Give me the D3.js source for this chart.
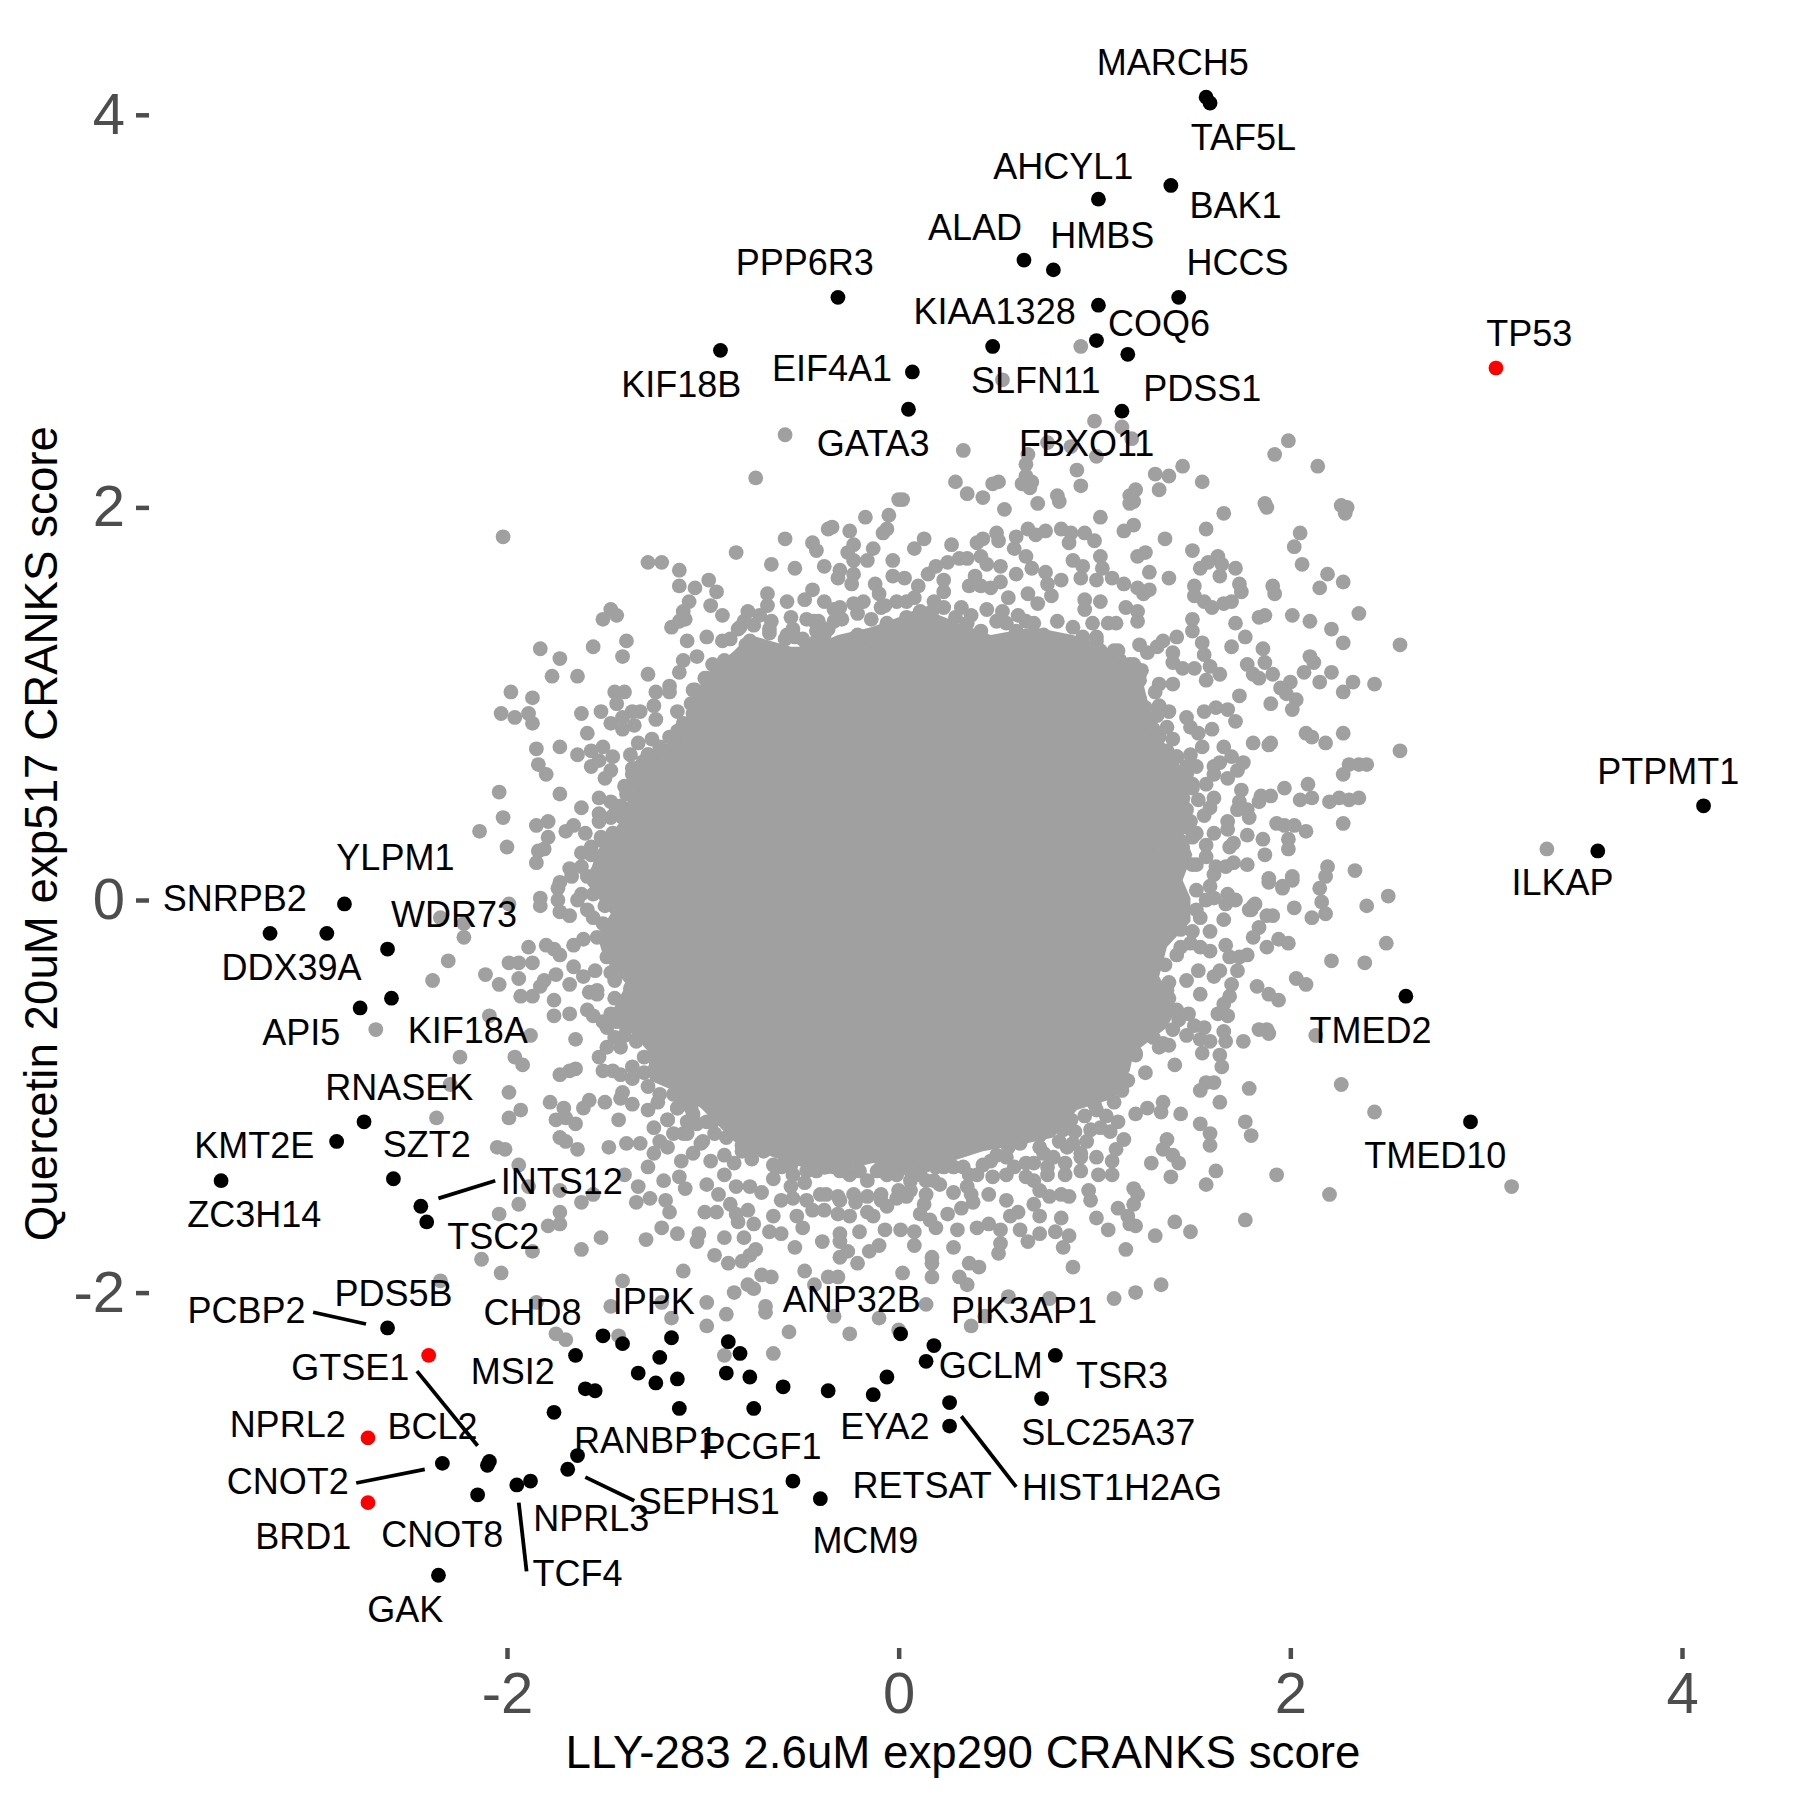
<!DOCTYPE html>
<html>
<head>
<meta charset="utf-8">
<script src="https://cdn.jsdelivr.net/npm/d3@7"></script>
<style>
  html, body { margin: 0; padding: 0; background: #fff; }
  text { font-family: "Liberation Sans", Arial, sans-serif; }
</style>
</head>
<body>
<div class="viz"></div>
<script>
const xTicks = [-2, 0, 2, 4];
const yTicks = [-2, 0, 2, 4];
const xTitle = "LLY-283 2.6uM exp290 CRANKS score";
const yTitle = "Quercetin 20uM exp517 CRANKS score";

// red hits
const redX = [3.05, -2.40, -2.71, -2.71];
const redY = [2.71, -2.32, -2.74, -3.07];

// black hits, [x, y]
const hits = [[1.57,4.09],[1.59,4.06],[1.39,3.64],[1.02,3.57],[.64,3.26],[.79,3.21],[1.43,3.07],[1.02,3.03],[1.01,2.85],[1.17,2.78],[.48,2.82],[.07,2.69],[.05,2.50],[1.14,2.49],[-.31,3.07],[-.91,2.80],[4.11,.48],[3.57,.25],[2.59,-.49],[2.92,-1.13],[-2.83,-.02],[-3.21,-.17],[-2.92,-.17],[-2.61,-.25],[-2.59,-.50],[-2.75,-.55],[-2.73,-1.13],[-2.87,-1.23],[-3.46,-1.43],[-2.58,-1.42],[-2.44,-1.56],[-2.41,-1.64],[-2.61,-2.18],[-2.33,-2.87],[-2.09,-2.86],[-2.10,-2.88],[-2.15,-3.03],[-1.95,-2.98],[-1.88,-2.96],[-2.35,-3.44],[-1.69,-2.90],[-1.64,-2.83],[-1.76,-2.61],[-1.60,-2.49],[-1.55,-2.50],[-1.65,-2.32],[-1.51,-2.22],[-1.41,-2.26],[-1.16,-2.23],[-1.22,-2.33],[-1.33,-2.41],[-1.24,-2.46],[-1.13,-2.44],[-1.12,-2.59],[-.87,-2.25],[-.81,-2.31],[-.88,-2.41],[-.76,-2.43],[-.59,-2.48],[-.74,-2.59],[-.36,-2.50],[-.13,-2.52],[-.06,-2.43],[-.54,-2.96],[-.40,-3.05],[.01,-2.21],[.18,-2.27],[.14,-2.35],[.80,-2.32],[.73,-2.54],[.26,-2.56],[.26,-2.68]];

// the middle of the cloud is fully overplotted, single genes can't be read there,
// so it is one filled outline and only the readable points around it are listed
const coreOutline = [[-1.59,.10],[-1.54,.25],[-1.42,.40],[-1.34,.59],[-1.34,.73],[-1.15,.81],[-1.05,1.00],[-1.00,1.13],[-.84,1.27],[-.76,1.35],[-.55,1.29],[-.45,1.29],[-.31,1.35],[-.14,1.39],[0,1.44],[.11,1.49],[.31,1.41],[.47,1.35],[.69,1.39],[.89,1.35],[1.05,1.29],[1.16,1.22],[1.25,1.10],[1.28,.98],[1.35,.81],[1.44,.68],[1.49,.52],[1.45,.35],[1.50,.23],[1.45,.10],[1.49,.01],[1.49,-.11],[1.37,-.24],[1.33,-.39],[1.42,-.55],[1.37,-.65],[1.20,-.78],[1.18,-.87],[1.10,-1.01],[.91,-1.07],[.79,-1.21],[.65,-1.24],[.43,-1.28],[.18,-1.36],[.01,-1.40],[-.13,-1.34],[-.38,-1.40],[-.64,-1.31],[-.84,-1.23],[-1.01,-1.06],[-1.15,-.97],[-1.27,-.92],[-1.28,-.77],[-1.39,-.65],[-1.47,-.58],[-1.39,-.43],[-1.51,-.28],[-1.54,-.18],[-1.47,-.07],[-1.59,.08]];

const greyPoints = [
[-.58,2.37],[-.73,2.15],[-2.02,1.85],[0,2.04],[-.17,1.95],[-.05,1.96],[-.34,1.90],[-.36,1.89],[-.25,1.88],[-.06,1.89],[-.08,1.87],[-.58,1.84],[-.44,1.82],[-.42,1.78],[-.83,1.77],[-.23,1.81],[-.26,1.77],[-.23,1.73],[-.13,1.79],[-.16,1.73],[-.03,1.73],[-1.28,1.72],[-1.21,1.72],[-.65,1.71],[-.53,1.69],[-.38,1.70],[-1.12,1.68],[-.30,1.68],[-.31,1.64],[-.23,1.66],[-.24,1.61],[-.03,1.65],[-.97,1.63],[-1.12,1.60],[-1.04,1.59],[-.93,1.57],[-.12,1.61],[-.44,1.58],[-.67,1.56],[-.67,1.50],[-.48,1.53],[-.38,1.52],[-.57,1.52],[-1.07,1.52],[-1.10,1.47],[-1.09,1.43],[-1.12,1.42],[-1.16,1.39],[-.96,1.50],[-.90,1.45],[-1.47,1.48],[-1.44,1.45],[-1.51,1.43],[-.77,1.47],[-.79,1.42],[-.55,1.44],[-.65,1.42],[-.41,1.42],[-.42,1.37],[-.98,1.34],[-1.08,1.32],[-1.39,1.32],[-.86,1.33],[-1.56,1.29],[-1.83,1.28],[-1.41,1.24],[-1.73,1.23],[-1.03,1.24],[-1.10,1.22],[-1.12,1.16],[-1.77,1.14],[-1.64,1.14],[-1.28,1.15],[-.99,1.13],[-1.04,1.07],[-1.17,1.09],[-1.17,1.06],[-1.45,1.06],[-1.40,1.06],[-1.44,1.00],[-1.24,1.06],[-1.25,.99],[-1.98,1.06],[-1.87,1.03],[-2.03,.95],[-1.96,.93],[-1.89,.95],[-1.87,.90],[-1.62,.95],[-1.52,.96],[-1.32,.96],[-1.36,.96],[-1.41,.93],[-1.13,.96],[-1.24,.92],[-1.47,.90],[-1.35,.89],[-1.41,.87],[-1.05,.95],[-.99,.92],[-1.59,.85],[-1.17,.83],[-1.26,.82],[-1.33,.80],[-1.85,.77],[-1.73,.78],[-1.51,.78],[-1.57,.76],[-1.64,.74],[-1.37,.74],[-1.28,.74],[-1.20,.74],[-1.46,.73],[-1.84,.69],[-1.80,.64],[-1.57,.68],[-1.53,.71],[-1.47,.66],[-1.50,.62],[-1.36,.67],[-1.32,.64],[-1.38,.58],[-2.04,.55],[-1.73,.54],[-1.53,.52],[-1.47,.50],[-1.62,.47],[-1.42,.48],[-1.39,.46],[-2.02,.42],[-1.53,.44],[-1.53,.40],[-1.79,.40],[-1.85,.38],[-1.66,.38],[-1.70,.35],[-1.41,.42],[-1.30,.44],[-2.14,.35],[-1.79,.32],[-1.60,.34],[-2.00,.27],[-1.81,.26],[-1.84,.25],[-1.51,.30],[-1.57,.27],[-1.62,.24],[-1.85,.19],[-1.62,.17],[-1.68,.16],[-1.67,.12],[-1.54,.14],[-1.73,.09],[-1.42,.25],[-1.32,.25],[-1.39,.17],
[-.90,1.32],[-.82,1.38],[-.74,1.40],[-.66,1.36],[-.58,1.33],[-.49,1.33],[-.36,1.38],[-.29,1.43],[-.21,1.46],[-.14,1.43],[-.07,1.50],[.04,1.52],[.17,1.47],[-.47,1.43],[-.33,1.48],[-.18,1.52],[-.10,1.56],[-.54,1.38],[-.71,1.45],[-.84,1.22],[-.95,1.20],[-1.06,.88],[-1.10,.90],[-1.22,.78],[-1.40,.58],[-1.45,.44],[-1.46,.34],
[-.43,1.42],[-.38,1.35],[-.30,1.49],[-.23,1.51],[-.33,1.42],[-.21,1.35],[-.14,1.32],[-.09,1.49],[-.06,1.41],[-.01,1.52],[-.08,1.34],[-.47,1.30],[-.57,1.35],[-.53,1.34],[-.66,1.38],[-.70,1.27],[-.76,1.32],[-.81,1.39],[-.42,1.32],[-.89,1.22],[-.98,1.13],[-1.05,1.07],[-1.01,1.02],[-1.06,1.00],[-.93,1.07],[-.99,.91],[-1.08,.86],[-1.13,.86],[-1.22,.76],[-1.28,.74],[-1.32,.68],[-1.36,.64],[-1.25,.64],[-1.32,.59],[-1.39,.54],[-1.35,.49],[-1.44,.47],[-1.47,.42],[-1.39,.40],[-1.30,.39],[-1.52,.32],[-1.44,.32],[-1.39,.30],[-1.57,.23],[-1.47,.22],[-1.52,.17],[-1.59,.12],[-1.47,.12],
[.18,1.52],[.11,1.47],[.04,1.44],[.08,1.54],[.23,1.49],[.29,1.44],[.35,1.41],[.42,1.37],[.50,1.42],[.55,1.41],[.60,1.37],[.69,1.41],[.74,1.35],[.81,1.42],[.89,1.39],[.94,1.34],[1.01,1.34],[1.03,1.27],[1.10,1.27],[1.13,1.22],[1.20,1.20],[1.23,1.15],[1.20,1.10],[1.23,1.02],[1.28,.95],[1.27,.88],[1.33,.83],[1.37,.76],[1.42,.73],[1.47,.64],[1.50,.59],[1.44,.51],[1.42,.44],[1.49,.40],[1.52,.34],[1.45,.27],[1.50,.18],[1.57,.22],
[.93,2.82],[.53,2.65],[1.00,2.44],[1.14,2.41],[.33,2.29],[1.19,2.35],[.76,2.33],[.88,2.31],[1.01,2.26],[1.99,2.34],[1.92,2.27],[2.14,2.21],[1.45,2.21],[1.31,2.17],[1.38,2.16],[.66,2.27],[.65,2.22],[.91,2.19],[.65,2.16],[.68,2.13],[.63,2.12],[.67,2.10],[.51,2.13],[.48,2.12],[.29,2.13],[.93,2.11],[1.55,2.13],[.35,2.07],[.43,2.05],[1.33,2.09],[.81,2.06],[.82,2.03],[1.21,2.09],[1.18,2.06],[1.20,2.03],[1.18,2.02],[.02,2.04],[.71,2.02],[.54,1.99],[1.87,2.02],[1.88,2.00],[1.66,1.97],[2.26,2.01],[2.29,2.00],[2.28,1.97],[1.03,1.95],[1.20,1.91],[1.15,1.88],[1.57,1.89],[.50,1.87],[.51,1.83],[.66,1.89],[.70,1.86],[.75,1.88],[.83,1.89],[.88,1.87],[.87,1.82],[.95,1.87],[1.00,1.83],[1.03,1.75],[.60,1.85],[.59,1.79],[.43,1.84],[.40,1.82],[.13,1.84],[.08,1.79],[.27,1.81],[1.36,1.84],[2.05,1.87],[2.02,1.80],[1.50,1.78],[1.26,1.77],[1.22,1.75],[.42,1.75],[.45,1.71],[.65,1.75],[.68,1.69],[.89,1.73],[.94,1.70],[2.06,1.71],[1.63,1.75],[1.58,1.72],[1.54,1.69],[1.65,1.71],[1.72,1.69],[1.64,1.65],[.52,1.70],[.31,1.74],[.25,1.72],[.19,1.70],[.15,1.66],[.35,1.74],[1.28,1.67],[.75,1.67],[.60,1.66],[1.04,1.69],[1.38,1.64],[2.19,1.66],[2.27,1.62],[2.15,1.59],[.83,1.63],[.76,1.61],[.93,1.64],[1.01,1.63],[1.09,1.64],[1.15,1.61],[1.22,1.59],[1.28,1.58],[.52,1.62],[.47,1.59],[.39,1.65],[.36,1.60],[.42,1.60],[.23,1.63],[.23,1.57],[.10,1.60],[.03,1.64],[1.91,1.60],[1.92,1.56],[1.51,1.60],[1.51,1.55],[1.56,1.52],[1.60,1.49],[1.66,1.51],[1.70,1.52],[1.74,1.61],[1.75,1.57],[.66,1.56],[.56,1.54],[.71,1.51],[.78,1.55],[1.25,1.56],[.95,1.53],[1.03,1.52],[.95,1.48],[1.16,1.49],[1.22,1.47],[1.22,1.42],[.32,1.49],[.37,1.45],[.45,1.48],[.53,1.47],[.61,1.45],[.65,1.42],[1.87,1.45],[1.84,1.44],[2.01,1.45],[2.35,1.46],[2.10,1.42],[1.50,1.43],[1.50,1.37],[1.72,1.41],[1.07,1.41],[1.11,1.41],[.99,1.41],[1.77,1.34],[2.21,1.38],[2.27,1.31],[1.42,1.34],[1.35,1.32],[1.32,1.29],[1.27,1.26],[1.23,1.30],[1.55,1.31],[1.56,1.25],[1.59,1.19],[1.64,1.15],[1.70,1.29],[1.86,1.28],[1.01,1.32],[.99,1.27],[1.12,1.27],[1.18,1.20],[1.40,1.26],[1.40,1.21],[1.45,1.18],[1.51,1.18],[2.10,1.24],[2.12,1.21],[1.78,1.20],[1.81,1.15],[1.84,1.13],[1.87,1.21],[1.91,1.15],[2.21,1.16],[2.07,1.16],[2.15,1.11],[2.32,1.11],[2.27,1.06],[1.57,1.12],[1.40,1.10],[1.33,1.10],[1.31,1.06],[1.24,1.17],[1.23,1.12],[2.00,1.11],[1.95,1.08],[1.98,1.05],[2.03,1.02],[2.01,.97],[1.90,1.00],[1.74,1.04],[1.23,1.02],[1.26,.98],[1.33,.99],[1.38,.96],[1.32,.94],[1.62,.98],[1.56,.96],[1.68,.97],[1.47,.93],[1.72,.91],[1.28,.90],[1.37,.88],[1.40,.82],[1.49,.88],[1.53,.85],[1.60,.87],[2.08,.85],[2.11,.83],[2.27,.85],[2.18,.80],[1.81,.80],[1.90,.80],[1.89,.79],[1.55,.78],[1.66,.78],[1.76,.70],[1.70,.73],[1.64,.70],[1.61,.68],[1.73,.66],[1.68,.62],[1.61,.64],[1.49,.74],[1.47,.68],[1.52,.68],[2.30,.69],[2.27,.64],[2.35,.69],[1.37,.73],[1.42,.73],[1.45,.59],[1.50,.57],[1.57,.59],[1.61,.52],[1.53,.51],[1.59,.47],[1.56,.43],[1.75,.56],[1.97,.57],[2.09,.59],[1.90,.53],[1.85,.53],[1.84,.50],[2.05,.51],[2.11,.52],[2.20,.50],[2.25,.52],[2.30,.51],[2.35,.52],[1.74,.50],[1.78,.46],[1.73,.46],[1.79,.42],[1.93,.39],[1.97,.38],[2.02,.38],[2.08,.35],[2.27,.39],[1.68,.40],[1.68,.36],[1.78,.33],[1.99,.31],[1.99,.26],[1.86,.31],[1.71,.29],[1.69,.27],[1.61,.34],[1.57,.28],[1.87,.23],[1.52,.18],[1.62,.17],[1.71,.19],[1.78,.18],[1.67,.17],[2.19,.17],[2.18,.12],[2.33,.15],[1.89,.11],[2.01,.12],[1.61,.13],[1.37,.57],[1.33,.51],[1.47,.37],[1.50,.32],[1.30,.42],[1.37,.36],[1.33,.23],[1.44,.30],[2.56,1.30],[2.56,.76],[2.43,1.10],[2.39,.69],[3.31,.26],
[1.96,.07],[2.15,.06],[2.16,-.01],[2.18,-.07],[2.11,-.09],[2.50,.02],[2.39,-.03],[2.02,-.04],[1.81,-.03],[1.80,-.05],[1.88,-.08],[1.84,-.14],[1.81,-.19],[1.94,-.20],[1.99,-.22],[1.88,-.24],[2.49,-.22],[2.21,-.31],[2.38,-.32],[1.78,-.28],[1.74,-.29],[2.03,-.40],[2.08,-.43],[1.83,-.44],[1.89,-.48],[1.94,-.51],[2.26,-.94],[2.43,-1.08],[3.13,-1.46],[2.20,-1.50],[1.59,.07],[1.68,.03],[1.72,0],[1.61,.01],[1.67,-.02],[1.66,-.10],[1.82,-.02],[1.79,-.05],[1.89,.09],[1.96,.06],[2.01,.10],[1.91,-.08],[1.69,-.49],[1.66,-.53],[1.63,-.58],[1.68,-.59],[1.84,-.66],[1.88,-.66],[1.89,-.68],[1.76,-.72],[2.13,-.69],[1.51,-.64],[1.56,-.65],[1.47,-.69],[1.54,-.71],[1.59,-.72],[1.66,-.67],[1.67,-.72],[1.55,-.78],[1.64,-.79],[1.65,-.85],[1.41,-.84],[1.26,-.88],[1.33,-.75],[1.38,-.74],[1.21,-.79],[1.15,-.91],[1.79,-.96],[1.57,-.93],[1.61,-.93],[1.54,-.97],[1.64,-1.03],[1.77,-1.13],[1.80,-1.20],[1.44,-1.09],[1.27,-1.06],[1.21,-1.09],[1.35,-1.03],[1.34,-1.08],[1.54,-1.14],[1.59,-1.19],[1.59,-1.25],[1.01,-1.07],[1.06,-1.10],[1.12,-1.13],[1.08,-1.18],[1.15,-1.22],[1.11,-1.27],[1.09,-1.33],[1.09,-1.40],[1.37,-1.22],[1.35,-1.27],[1.40,-1.30],[1.43,-1.34],[1.29,-1.34],[1.39,-1.41],[1.62,-1.38],[1.57,-1.45],[1.93,-1.40],[1.77,-1.63],[1.20,-1.47],[1.22,-1.50],[1.20,-1.55],[1.12,-1.57],[1.17,-1.61],[1.18,-1.65],[1.21,-1.66],[1.01,-1.62],[1.07,-1.68],[1.41,-1.64],[1.49,-1.69],[1.31,-1.71],[1.16,-1.78],[.97,-1.48],[.98,-1.53],[.85,-1.40],[.93,-1.38],[1.02,-1.40],[.85,-1.34],[.76,-1.40],[.69,-1.43],[.72,-1.48],[.77,-1.51],[.83,-1.50],[.87,-1.51],[.65,-1.41],[.74,-1.29],[1.01,-1.31],[.93,-1.29],[.86,-1.26],[.55,-1.53],[.46,-1.50],[.69,-1.55],[.72,-1.61],[.61,-1.59],[.57,-1.61],[.83,-1.62],[.80,-1.69],[.87,-1.71],[.84,-1.77],[.72,-1.70],[.62,-1.68],[.66,-1.74],[.52,-1.68],[.46,-1.65],[.40,-1.67],[.30,-1.68],[.52,-1.75],[.51,-1.80],[.89,-1.87],[.28,-1.77],[.36,-1.85],[.41,-1.87],[.31,-1.92],[.35,-1.96],[.17,-1.82],[.17,-1.85],[.17,-1.92],[.19,-1.67],[.16,-1.63],[.25,-1.60],[.32,-1.57],[.13,-1.55],[.11,-1.60],[.28,-1.49],[.37,-1.50],[.38,-1.54],[.08,-1.69],[.08,-1.76],[.02,-1.90],[.14,-2.06],[.37,-2.17],[.44,-2.12],[.56,-2.02],[.77,-2.03],[1.10,-2.03],[1.21,-2.00],[1.34,-1.96],[.21,-1.45],[.14,-1.43],[.06,-1.48],[.40,-1.40],[.48,-1.41],[.55,-1.40],[.47,-1.33],[.59,-1.36],[.33,-1.36],[.23,-1.36],[.14,-1.35],[.06,-1.38],[.69,-1.34],
[1.54,-.09],[1.57,0],[1.50,-.16],[1.59,-.16],[1.44,-.24],[1.49,-.22],[1.54,-.24],[1.59,-.26],[1.67,-.23],[1.69,-.29],[1.73,-.36],[1.70,-.43],[1.64,-.36],[1.61,-.39],[1.53,-.36],[1.54,-.48],[1.38,-.42],[1.47,-.41],[1.37,-.46],[1.42,-.56],[1.43,-.61],[1.40,-.66],[1.35,-.73],[1.30,-.70],[1.21,-.78],[1.03,-1.16],[.96,-1.23],[.89,-1.24],[.93,-1.31],[.82,-1.23],[.72,-1.26],[.79,-1.31],[.65,-1.34],[.76,-1.36],[.55,-1.31],[.50,-1.30],[.43,-1.35],[.36,-1.40],[.28,-1.36],[.18,-1.43],[.19,-1.36],[.11,-1.40],[.06,-1.43],[.04,-1.51],[.14,-1.50],[.35,-1.46],
[1.00,-1.04],[.95,-1.10],[.88,-1.12],[.84,-1.17],[.72,-1.20],[.62,-1.24],[.56,-1.26],[.98,-1.17],[.90,-1.18],[1.14,-.97],[1.10,-1.03],[1.17,-.92],[1.48,-.58],[1.38,-.50],[1.42,-.28],[1.36,-.33],[1.44,-.15],[1.52,-.05],[1.52,.05],[1.47,.46],[1.40,.60],[1.35,.68],[1.30,.87],[1.22,.97],[1.15,1.12],[1.08,1.18],[1.00,1.25],[-1.20,.70],[-1.08,.82],[-1.00,.98],[-.93,1.18],[-.78,1.30],[-1.37,-.45],[-1.44,-.33],[-1.44,-.12],[-1.50,-.03],[-1.50,.05],[-1.41,-.60],[-1.33,-.70],[-1.30,-.88],[-1.10,-1.02],[-.95,-1.13],[-.80,-1.25],[-.58,-1.33],[-.30,-1.38],[-.05,-1.36],
[-1.74,.06],[-1.83,.01],[-1.83,-.03],[-1.74,0],[-1.73,-.06],[-1.68,-.08],[-1.64,0],[-1.59,-.05],[-1.56,-.09],[-1.99,-.02],[-2.22,-.12],[-2.22,-.19],[-2.30,-.31],[-2.11,-.38],[-2.04,-.43],[-1.89,-.24],[-1.80,-.23],[-1.76,-.25],[-1.99,-.32],[-1.94,-.32],[-1.87,-.32],[-1.66,-.23],[-1.61,-.20],[-1.73,-.28],[-1.66,-.34],[-1.61,-.39],[-1.55,-.36],[-1.47,-.37],[-1.94,-.40],[-1.93,-.49],[-1.87,-.49],[-1.75,-.38],[-1.81,-.41],[-1.83,-.44],[-1.68,-.43],[-1.76,-.51],[-1.58,-.47],[-1.54,-.48],[-1.76,-.59],[-1.68,-.58],[-1.59,-.56],[-1.56,-.59],[-1.51,-.62],[-2.09,-.59],[-1.88,-.69],[-1.65,-.71],[-1.47,-.58],[-1.45,-.70],[-1.40,-.69],[-2.24,-.80],[-1.96,-.80],[-1.92,-.84],[-1.53,-.80],[-1.51,-.87],[-1.46,-.87],[-1.42,-.89],[-1.36,-.91],[-1.73,-.89],[-1.68,-.87],[-1.65,-.86],[-2.29,-.94],[-1.99,-.98],[-1.78,-1.03],[-1.71,-1.06],[-1.75,-1.12],[-1.70,-1.11],[-1.65,-1.14],[-1.61,-1.06],[-1.58,-1.02],[-1.50,-1.03],[-1.41,-.98],[-1.42,-1.01],[-1.36,-1.04],[-1.28,-1.07],[-1.23,-1.03],[-1.93,-1.07],[-1.99,-1.11],[-1.43,-1.12],[-1.73,-1.21],[-1.70,-1.23],[-1.64,-1.27],[-2.05,-1.26],[-2.01,-1.27],[-1.48,-1.26],[-1.39,-1.24],[-1.32,-1.24],[-1.25,-1.16],[-1.18,-1.12],[-1.13,-1.06],[-1.22,-1.23],[-1.25,-1.29],[-1.18,-1.26],[-1.08,-1.13],[-1.05,-1.09],[-1.10,-1.19],[-1.01,-1.24],[-1.11,-1.33],[-1.05,-1.29],[-.96,-1.33],[-1.28,-1.36],[-1.20,-1.43],[-1.12,-1.41],[-1.09,-1.47],[-.98,-1.45],[-.92,-1.50],[-.89,-1.40],[-.84,-1.34],[-.80,-1.28],[-.75,-1.32],[-.69,-1.28],[-.83,-1.46],[-.76,-1.46],[-.70,-1.49],[-.64,-1.26],[-.60,-1.36],[-.54,-1.29],[-.64,-1.42],[-.55,-1.46],[-.48,-1.44],[-.42,-1.38],[-.33,-1.36],[-.25,-1.40],[-.40,-1.50],[-.31,-1.51],[-.22,-1.54],[-.16,-1.59],[-.16,-1.43],[-.09,-1.50],[-.06,-1.56],[0,-1.48],[-1.33,-1.46],[-1.34,-1.54],[-1.27,-1.52],[-1.19,-1.53],[-1.17,-1.59],[-.99,-1.59],[-.93,-1.59],[-.86,-1.55],[-.83,-1.60],[-.82,-1.64],[-.77,-1.58],[-.74,-1.65],[-.64,-1.61],[-.52,-1.61],[-.44,-1.58],[-.38,-1.58],[-.31,-1.60],[-.25,-1.61],[-.13,-1.61],[-.66,-1.69],[-.60,-1.70],[-.49,-1.67],[-.30,-1.70],[-.20,-1.69],[-.07,-1.68],[.01,-1.68],[-.39,-1.74],[-.30,-1.74],[-.53,-1.77],[-.10,-1.76],[-.15,-1.79],[-.26,-1.79],[-.30,-1.82],[-.21,-1.85],[-.79,-1.72],[-.73,-1.78],[-.76,-1.81],[-.80,-1.84],[-.89,-1.72],[-1.02,-1.70],[-1.03,-1.74],[-1.13,-1.70],[-1.21,-1.67],[-1.29,-1.73],[-1.52,-1.72],[-1.62,-1.78],[-1.79,-1.66],[-1.73,-1.65],[-1.73,-1.59],[-1.94,-1.55],[-2.04,-1.60],[-1.62,-1.54],[-1.56,-1.50],[-1.40,-1.40],[-1.73,-1.48],[-1.89,-1.46],[-1.94,-1.35],[-2.13,-1.83],[-1.87,-1.79],[-2.03,-1.90],[-1.10,-1.89],[-.94,-1.81],[-.87,-1.85],[-.48,-1.89],[-.70,-1.91],[-.65,-1.92],[-.36,-1.92],[-.31,-1.92],[-.43,-1.96],[-.77,-1.96],[-.74,-1.98],[-.84,-2.00],[-1.41,-1.94],[-.98,-2.05],[-.88,-2.11],[-.98,-2.17],[-.68,-2.07],[-.68,-2.10],[-1.21,-2.05],[-1.16,-2.13],[-1.47,-2.07],[-1.85,-2.05],[-.33,-2.12],[-.10,-2.13],[-.56,-2.20],[-.25,-2.21],[0,-2.19],[-1.75,-2.21],[-1.70,-2.24],[-1.43,-2.22],[-.89,-2.32],[-.64,-2.31],[-2.34,-1.94],[-2.67,-.66],[-2.38,-.41],[-2.34,-.09],[-2.36,-1.11],
[-1.62,.03],[-1.56,.03],[-1.49,0],[-1.42,-.05],[-1.51,-.12],[-1.54,-.19],[-1.47,-.22],[-1.49,-.29],[-1.42,-.31],[-1.45,-.41],[-1.54,-.46],[-1.45,-.50],[-1.39,-.53],[-1.44,-.62],[-1.49,-.65],[-1.39,-.65],[-1.34,-.72],[-1.42,-.75],[-1.49,-.75],[-1.30,-.80],[-1.36,-.85],[-1.25,-.87],[-1.28,-.95],[-1.22,-.99],[-1.15,-.99],[-1.13,-1.06],[-1.06,-1.06],[-1.18,-1.12],[-1.15,-1.19],[-1.08,-1.19],[-1.03,-1.14],[-.98,-1.13],[-.94,-1.19],[-.88,-1.21],[-1.00,-1.23],[-.89,-1.30],[-.77,-1.21],[-.74,-1.26],[-.67,-1.21],[-.62,-1.26],[-.55,-1.21],[-.47,-1.29],[-.42,-1.24],[-.47,-1.38],[-.54,-1.40],[-.64,-1.35],[-.55,-1.35],[-.37,-1.36],[-.28,-1.33],[-.20,-1.38],[-.11,-1.38],[-.06,-1.40],[-.16,-1.51],[-.30,-1.53],[-.37,-1.50],[-.23,-1.50],[-.47,-1.53],[-.60,-1.53],[-.54,-1.52],[-.01,-1.40],[-.01,-1.52],[-.09,-1.53]
];

const geneNames = ["MARCH5","TAF5L","AHCYL1","BAK1","ALAD","HMBS","HCCS","PPP6R3","KIAA1328","COQ6","TP53","KIF18B","EIF4A1","SLFN11","PDSS1","GATA3","FBXO11","PTPMT1","ILKAP","YLPM1","SNRPB2","WDR73","DDX39A","API5","KIF18A","TMED2","RNASEK","KMT2E","SZT2","TMED10","INTS12","ZC3H14","TSC2","PDS5B","PCBP2","CHD8","IPPK","ANP32B","PIK3AP1","GTSE1","MSI2","GCLM","TSR3","NPRL2","BCL2","EYA2","SLC25A37","RANBP1","PCGF1","CNOT2","RETSAT","HIST1H2AG","SEPHS1","NPRL3","BRD1","CNOT8","MCM9","TCF4","GAK"];
// where the repelled labels ended up, in score units
const labelX = [1.40,1.76,.84,1.72,.39,1.04,1.73,-.48,.49,1.33,3.22,-1.11,-.34,.70,1.55,-.13,.96,3.93,3.39,-2.57,-3.39,-2.27,-3.10,-3.05,-2.20,2.41,-2.55,-3.29,-2.41,2.74,-1.72,-3.29,-2.07,-2.58,-3.33,-1.87,-1.25,-.24,.64,-2.80,-1.97,.47,1.14,-3.12,-2.38,-.07,1.07,-1.29,-.70,-3.12,.12,1.14,-.97,-1.57,-3.04,-2.33,-.17,-1.64,-2.52];
const labelY = [4.26,3.88,3.73,3.53,3.42,3.38,3.24,3.24,2.99,2.93,2.88,2.62,2.70,2.64,2.60,2.32,2.32,.65,.08,.21,0,-.08,-.35,-.68,-.67,-.67,-.96,-1.26,-1.25,-1.31,-1.44,-1.61,-1.72,-2.01,-2.10,-2.11,-2.05,-2.04,-2.10,-2.39,-2.41,-2.38,-2.43,-2.68,-2.69,-2.69,-2.72,-2.76,-2.79,-2.97,-2.99,-3.00,-3.07,-3.16,-3.25,-3.24,-3.27,-3.44,-3.62];

// repel segments: x1, y1, x2, y2
const segments = [[-2.99,-2.10,-2.72,-2.16],[-2.46,-2.40,-2.15,-2.78],[-2.77,-2.97,-2.42,-2.90],[-1.94,-3.07,-1.90,-3.42],[-1.60,-2.94,-1.35,-3.06],[-2.35,-1.52,-2.06,-1.43],[.32,-2.63,.60,-2.99]];

const width = 1800, height = 1800;
const pointRadius = 7.4;

const svg = d3.select('.viz').append('svg')
  .attr('width', width)
  .attr('height', height)
  .style('display', 'block');

const x = d3.scaleLinear().domain([-2, 4]).range([507, 1682]);
const y = d3.scaleLinear().domain([-2, 4]).range([1292.6, 114.8]);

const xAxis = g => g
  .attr('transform', 'translate(0,1648)')
  .call(d3.axisBottom(x).tickValues(xTicks).tickFormat(d => String(d)).tickSize(11).tickPadding(13))
  .call(g => g.select('.domain').remove());

const yAxis = g => g
  .attr('transform', 'translate(149,0)')
  .call(d3.axisLeft(y).tickValues(yTicks).tickFormat(d => String(d)).tickSize(13).tickPadding(11))
  .call(g => g.select('.domain').remove());

svg.append('g').call(xAxis);
svg.append('g').call(yAxis);

svg.selectAll('.tick line').attr('stroke', '#4d4d4d').attr('stroke-width', 4.5);
svg.selectAll('.tick text')
  .attr('fill', '#4d4d4d')
  .style('font-size', '58px')
  .style('font-family', '"Liberation Sans", Arial, sans-serif');

const corePath = d3.line().x(d => x(d[0])).y(d => y(d[1])).curve(d3.curveLinearClosed);
svg.append('path')
  .attr('d', corePath(coreOutline))
  .attr('fill', '#a0a0a0');

svg.append('g').attr('fill', '#a0a0a0')
  .selectAll('circle').data(greyPoints).enter().append('circle')
  .attr('cx', d => x(d[0]))
  .attr('cy', d => y(d[1]))
  .attr('r', pointRadius);

svg.append('g').attr('fill', '#000')
  .selectAll('circle').data(hits).enter().append('circle')
  .attr('cx', d => x(d[0]))
  .attr('cy', d => y(d[1]))
  .attr('r', pointRadius);

svg.append('g').attr('fill', '#ff0000')
  .selectAll('circle').data(redX).enter().append('circle')
  .attr('cx', d => x(d))
  .attr('cy', (d, i) => y(redY[i]))
  .attr('r', pointRadius);

svg.append('g').attr('stroke', '#000').attr('stroke-width', 3.8)
  .selectAll('line').data(segments).enter().append('line')
  .attr('x1', d => x(d[0]))
  .attr('y1', d => y(d[1]))
  .attr('x2', d => x(d[2]))
  .attr('y2', d => y(d[3]));

svg.append('g')
  .selectAll('text').data(geneNames).enter().append('text')
  .attr('x', (d, i) => x(labelX[i]))
  .attr('y', (d, i) => y(labelY[i]))
  .attr('dy', '0.31em')
  .attr('text-anchor', 'middle')
  .attr('fill', '#000')
  .style('font-size', '36px')
  .text(d => d);

svg.append('text')
  .attr('x', 963)
  .attr('y', 1768)
  .attr('text-anchor', 'middle')
  .attr('fill', '#000')
  .style('font-size', '45.7px')
  .text(xTitle);

svg.append('text')
  .attr('transform', 'translate(57,833.6) rotate(-90)')
  .attr('text-anchor', 'middle')
  .attr('fill', '#000')
  .style('font-size', '45.7px')
  .text(yTitle);
</script>
</body>
</html>
